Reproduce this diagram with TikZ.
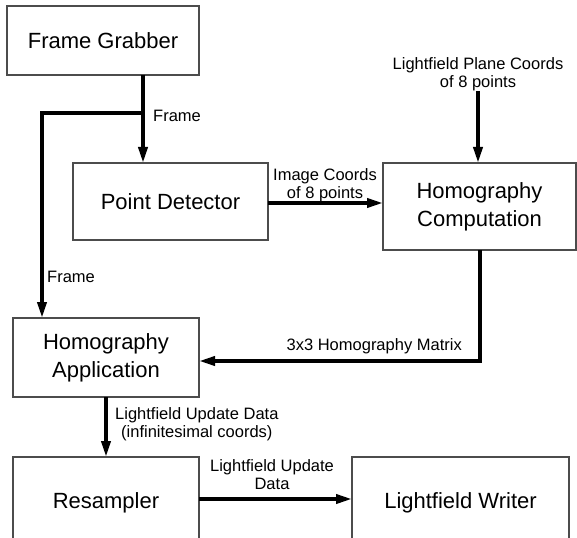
\documentclass[tikz,border=0pt]{standalone}
\usepackage{fontspec}
\setmainfont{Liberation Sans}
\usetikzlibrary{arrows.meta,calc}
\begin{document}
\begin{tikzpicture}[x=1pt,y=-1pt,
  box/.style={draw=black!70, line width=1.2pt, fill=white, inner sep=0pt, outer sep=0pt, align=center, font=\fontsize{22}{28}\selectfont},
  lbl/.style={inner sep=0pt, align=center, font=\fontsize{16.5}{18}\selectfont},
  flow/.style={line width=3.6pt, -{Triangle[length=16pt,width=9pt]}}]
\useasboundingbox (0,0) rectangle (577,537);
\clip (0,0) rectangle (577,537);
% boxes
\node[box, minimum width=192pt, minimum height=69pt] (fg) at (103,40.5) {Frame Grabber};
\node[box, minimum width=195pt, minimum height=77pt] (pd) at (170.5,201.5) {Point Detector};
\node[box, minimum width=193pt, minimum height=87pt] (hc) at (479.5,206.5) {Homography\\Computation};
\node[box, minimum width=186pt, minimum height=79pt] (ha) at (106,357.5) {Homography\\Application};
\node[box, minimum width=186pt, minimum height=92pt] (res) at (106,503) {Resampler};
\node[box, minimum width=217pt, minimum height=92pt] (lw) at (460.5,503) {Lightfield Writer};
% labels
\node[lbl, anchor=west] (lf1) at (153,116) {Frame};
\node[lbl, anchor=west] (lf2) at (47,277) {Frame};
\node[lbl] (lp) at (478,74) {Lightfield Plane Coords\\of 8 points};
\node[lbl] (lic) at (325,185) {Image Coords\\of 8 points};
\node[lbl, anchor=east] (lhm) at (462,346) {3x3 Homography Matrix};
\node[lbl, anchor=west] (lud) at (115,424) {Lightfield Update Data\\(infinitesimal coords)};
\node[lbl] (lud2) at (272,475) {Lightfield Update\\Data};
% connectors
\coordinate (j) at (143,113);
\coordinate (hx) at (42,113);
\draw[flow] (fg.south -| j) -- (pd.north -| j);
\draw[flow] (j) -- (hx) -- (ha.north -| hx);
\draw[flow] (pd.east |- 0,203) -- (hc.west |- 0,203);
\draw[flow] (lp.south) -- (hc.north -| lp.south);
\coordinate (hm) at (480,361);
\draw[flow] (hc.south -| hm) -- (hm) -- (ha.east |- hm);
\draw[flow] (ha.south) -- (res.north);
\coordinate (ry) at (0,499);
\draw[flow] (res.east |- ry) -- (lw.west |- ry);
\end{tikzpicture}
\end{document}
